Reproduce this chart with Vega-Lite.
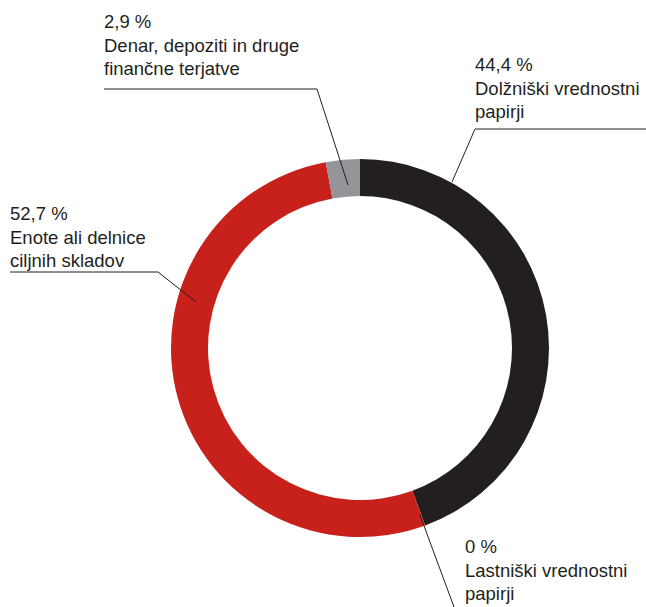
{
  "$schema": "https://vega.github.io/schema/vega-lite/v6.json",
  "width": 646,
  "height": 607,
  "padding": 0,
  "autosize": {"type": "none"},
  "background": "white",
  "config": {"view": {"stroke": null}},
  "datasets": {
    "shares": [
      {"cat": "Dolžniški vrednostni papirji", "pct": 44.4, "ord": 1},
      {"cat": "Lastniški vrednostni papirji", "pct": 0, "ord": 2},
      {"cat": "Enote ali delnice ciljnih skladov", "pct": 52.7, "ord": 3},
      {"cat": "Denar, depoziti in druge finančne terjatve", "pct": 2.9, "ord": 4}
    ],
    "leaders": [
      {"cat": "grey", "seq": 1, "lx": -256, "ly": 259},
      {"cat": "grey", "seq": 2, "lx": -43, "ly": 259},
      {"cat": "grey", "seq": 3, "lx": -12, "ly": 163},
      {"cat": "black", "seq": 1, "lx": 286, "ly": 219},
      {"cat": "black", "seq": 2, "lx": 115, "ly": 219},
      {"cat": "black", "seq": 3, "lx": 92, "ly": 166},
      {"cat": "red", "seq": 1, "lx": -350, "ly": 76},
      {"cat": "red", "seq": 2, "lx": -202, "ly": 76},
      {"cat": "red", "seq": 3, "lx": -164, "ly": 46},
      {"cat": "zero", "seq": 1, "lx": 60, "ly": -167},
      {"cat": "zero", "seq": 2, "lx": 94, "ly": -259}
    ],
    "labels": [
      {"txt": "2,9 %\nDenar, depoziti in druge\nfinančne terjatve", "tx": -256, "ty": 320},
      {"txt": "44,4 %\nDolžniški vrednostni\npapirji", "tx": 115, "ty": 277},
      {"txt": "52,7 %\nEnote ali delnice\nciljnih skladov", "tx": -350, "ty": 128},
      {"txt": "0 %\nLastniški vrednostni\npapirji", "tx": 105, "ty": -205}
    ]
  },
  "layer": [
    {
      "data": {"name": "shares"},
      "mark": {"type": "arc", "outerRadius": 189, "innerRadius": 152},
      "encoding": {
        "x": {"datum": 0, "type": "quantitative", "scale": {"domain": [-360, 286]}, "axis": null},
        "y": {"datum": 0, "type": "quantitative", "scale": {"domain": [-259, 348]}, "axis": null},
        "theta": {"field": "pct", "type": "quantitative", "stack": true},
        "order": {"field": "ord", "type": "quantitative"},
        "color": {
          "field": "cat",
          "type": "nominal",
          "scale": {
            "domain": ["Dolžniški vrednostni papirji", "Lastniški vrednostni papirji", "Enote ali delnice ciljnih skladov", "Denar, depoziti in druge finančne terjatve"],
            "range": ["#231f20", "#6d6e71", "#c8211b", "#939598"]
          },
          "legend": null
        }
      }
    },
    {
      "data": {"name": "leaders"},
      "mark": {"type": "line", "color": "#231f20", "strokeWidth": 1},
      "encoding": {
        "x": {"field": "lx", "type": "quantitative", "scale": {"domain": [-360, 286]}, "axis": null},
        "y": {"field": "ly", "type": "quantitative", "scale": {"domain": [-259, 348]}, "axis": null},
        "detail": {"field": "cat"},
        "order": {"field": "seq", "type": "quantitative"}
      }
    },
    {
      "data": {"name": "labels"},
      "mark": {"type": "text", "align": "left", "baseline": "alphabetic", "font": "Liberation Sans", "fontSize": 18.5, "letterSpacing": 0.2, "lineHeight": 23.5, "lineBreak": "\n", "color": "#231f20"},
      "encoding": {
        "x": {"field": "tx", "type": "quantitative", "scale": {"domain": [-360, 286]}, "axis": null},
        "y": {"field": "ty", "type": "quantitative", "scale": {"domain": [-259, 348]}, "axis": null},
        "text": {"field": "txt"}
      }
    }
  ]
}
